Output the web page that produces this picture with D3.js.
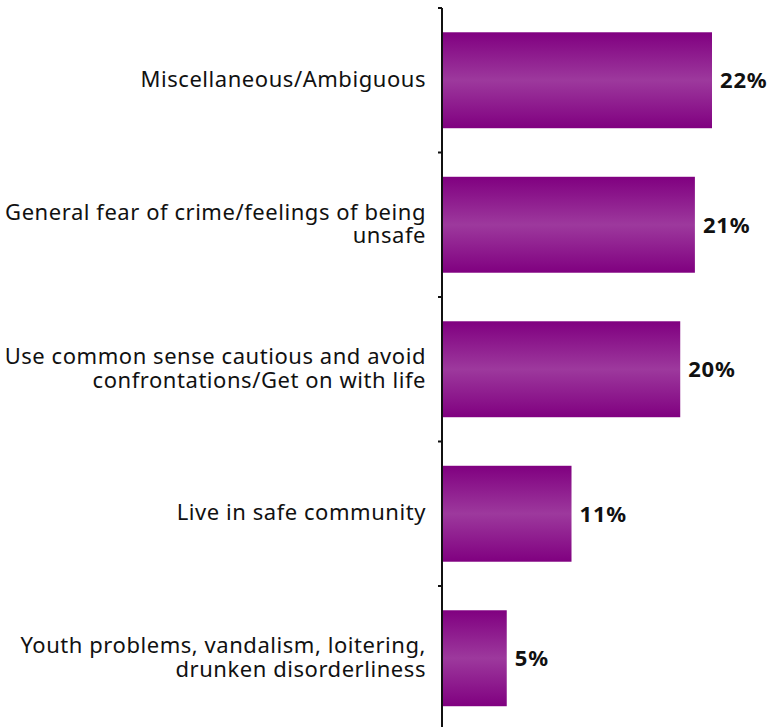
<!DOCTYPE html>
<html>
<head>
<meta charset="utf-8">
<script src="https://cdn.jsdelivr.net/npm/d3@7"></script>
<style>
  body { margin: 0; background: #fff; }
  svg { display: block; font-family: "Noto Sans", "DejaVu Sans", sans-serif; }
</style>
</head>
<body>
<svg id="chart" width="768" height="727"></svg>
<script>
/************** Data **************/
const categories = [
  ["Miscellaneous/Ambiguous"],
  ["General fear of crime/feelings of being", "unsafe"],
  ["Use common sense cautious and avoid", "confrontations/Get on with life"],
  ["Live in safe community"],
  ["Youth problems, vandalism, loitering,", "drunken disorderliness"]
];
const values = [22.1, 20.7, 19.5, 10.6, 5.3];
const valueLabels = ["22%", "21%", "20%", "11%", "5%"];

/************** Layout **************/
const W = 768, H = 727;
const axisX = 442;
const svg = d3.select("#chart");

const data = categories.map((c, i) => ({ lines: c, value: values[i], label: valueLabels[i] }));

const x = d3.scaleLinear().domain([0, 22.1]).range([axisX, 712]);
const y = d3.scaleBand()
  .domain(d3.range(data.length))
  .range([8, 730.5])
  .paddingInner(0.336)
  .paddingOuter(0.168);

// bar gradient: darker top/bottom, lighter middle
const grad = svg.append("defs").append("linearGradient")
  .attr("id", "barGrad").attr("x1", 0).attr("y1", 0).attr("x2", 0).attr("y2", 1);
grad.selectAll("stop")
  .data([[0, "#800080"], [0.5, "#9d399d"], [1, "#800080"]])
  .join("stop")
    .attr("offset", d => d[0])
    .attr("stop-color", d => d[1]);

/************** Bars **************/
svg.append("g").selectAll("rect")
  .data(data)
  .join("rect")
    .attr("x", axisX)
    .attr("y", (d, i) => y(i))
    .attr("width", d => x(d.value) - axisX)
    .attr("height", y.bandwidth())
    .attr("fill", "url(#barGrad)");

/************** Axis line + ticks at band boundaries **************/
const step = y.step();
const bandTop = y(0) - y.paddingOuter() * step;
svg.append("line")
  .attr("x1", axisX).attr("x2", axisX)
  .attr("y1", bandTop).attr("y2", H)
  .attr("stroke", "#111").attr("stroke-width", 2);

svg.append("g").selectAll("line")
  .data(d3.range(data.length + 1))
  .join("line")
    .attr("x1", axisX - 4).attr("x2", axisX)
    .attr("y1", i => bandTop + i * step).attr("y2", i => bandTop + i * step)
    .attr("stroke", "#111").attr("stroke-width", 2);

/************** Category labels **************/
const lineH = 23.5;
svg.append("g").selectAll("text")
  .data(data)
  .join("text")
    .attr("text-anchor", "end")
    .attr("font-size", 22)
    .attr("letter-spacing", 0.55)
    .attr("fill", "#111")
    .each(function(d, i) {
      const cy = y(i) + y.bandwidth() / 2;
      const n = d.lines.length;
      d3.select(this).selectAll("tspan")
        .data(d.lines)
        .join("tspan")
          .attr("x", 426)
          .attr("y", (l, k) => cy + 6.5 + (k - (n - 1) / 2) * lineH)
          .text(l => l);
    });

/************** Value labels **************/
svg.append("g").selectAll("text")
  .data(data)
  .join("text")
    .attr("x", d => x(d.value) + 8)
    .attr("y", (d, i) => y(i) + y.bandwidth() / 2 + 8)
    .attr("font-size", 22)
    .attr("font-weight", 700)
    .attr("letter-spacing", 0.8)
    .attr("fill", "#111")
    .text(d => d.label);
</script>
</body>
</html>
